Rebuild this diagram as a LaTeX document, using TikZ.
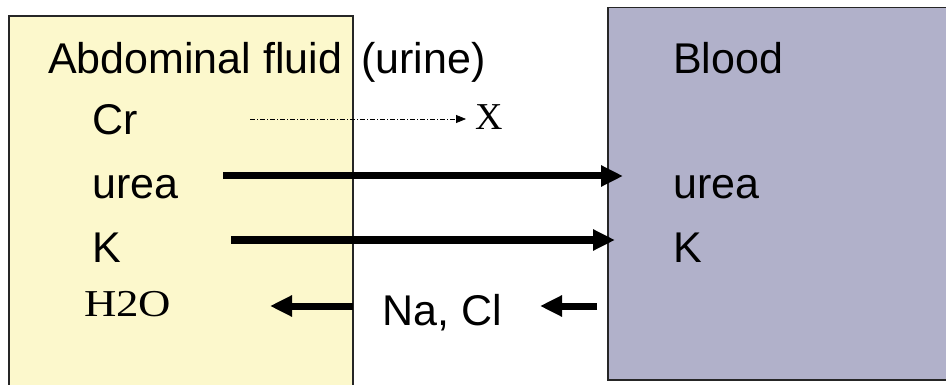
\documentclass[tikz,border=0pt]{standalone}
\usepackage{fontspec}
\setmainfont{Liberation Sans}
\newfontfamily\timesface{Liberation Serif}
\usepackage{xcolor}
\usetikzlibrary{arrows.meta}

\definecolor{urineyellow}{RGB}{252,248,204}
\definecolor{bloodgray}{RGB}{177,177,202}

\begin{document}
\begin{tikzpicture}[
  x=1pt, y=-1pt,
  compartment/.style={draw=black!85, line width=1.5pt, anchor=north west, inner sep=0pt},
  lbl/.style={anchor=base west, inner sep=0pt, font=\fontsize{43}{48}\selectfont},
  seriflbl/.style={anchor=base west, inner sep=0pt, font=\timesface\fontsize{38}{42}\selectfont},
  flow/.style={-{Triangle[length=22pt,width=20pt]}, line width=7pt},
  leak/.style={-{Triangle[length=10pt,width=8pt]}, line width=0.8pt, dash pattern=on 5pt off 2pt on 1pt off 2pt}
]
  \clip (0,0) rectangle (946,385);

  % compartments
  \node[compartment, fill=urineyellow, minimum width=344pt, minimum height=400pt] (urine) at (8,15.5) {};
  \node[compartment, fill=bloodgray, minimum width=400pt, minimum height=372pt] (blood) at (607,7) {};

  % labels, urine side
  \node[lbl] (urinetitle) at (48,74) {Abdominal fluid\hspace{19pt}(urine)};
  \node[lbl] (crL) at (92,135) {Cr};
  \node[lbl] (ureaL) at (92,199) {urea};
  \node[lbl] (kL) at (92,262) {K};
  \node[seriflbl] (water) at (84,316) {\scalebox{1.18}[1]{H2O}};

  % labels, blood side
  \node[lbl] (bloodtitle) at (673,74) {Blood};
  \node[lbl] (ureaR) at (673,199) {urea};
  \node[lbl] (kR) at (673,262) {K};
  \node[lbl] (nacl) at (382,325) {Na, Cl};
  \node[seriflbl] (xmark) at (475,130) {X};

  % arrow ends
  \coordinate (crout) at (250,119);
  \coordinate (crstop) at (466,119);
  \coordinate (ureaout) at (223,176);
  \coordinate (ureain) at (623,176);
  \coordinate (kout) at (231,240);
  \coordinate (kin) at (615,240);
  \coordinate (waterout) at (353,306);
  \coordinate (waterin) at (270,306);
  \coordinate (naout) at (597,306);
  \coordinate (nain) at (540,306);

  \draw[leak] (crout) -- (crstop);
  \draw[flow] (ureaout) -- (ureain);
  \draw[flow] (kout) -- (kin);
  \draw[flow] (waterout) -- (waterin);
  \draw[flow] (naout) -- (nain);
\end{tikzpicture}
\end{document}
